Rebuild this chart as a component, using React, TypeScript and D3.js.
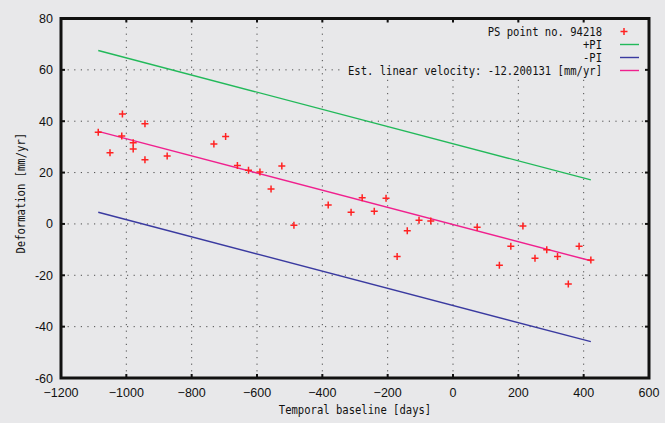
import React from "react";
import * as d3 from "d3";

// Acquisition dates (days relative to reference) and measured deformation of the PS point
const dates = [
  -1086, -1050, -1014, -1012, -979, -979, -943, -943, -875, -732, -696, -660,
  -626, -591, -557, -524, -487, -382, -312, -278, -241, -205, -171, -140, -104,
  -68, 74, 142, 177, 214, 251, 287, 320, 353, 386, 422,
];
const deformation = [
  35.7, 27.7, 34.2, 42.8, 31.6, 29.2, 39.0, 25.0, 26.5, 31.1, 34.0, 22.8,
  20.9, 20.2, 13.6, 22.6, -0.5, 7.4, 4.5, 10.2, 4.9, 10.0, -12.7, -2.7, 1.4,
  1.1, -1.3, -16.1, -8.7, -0.8, -13.4, -10.1, -12.7, -23.4, -8.7, -14.0,
];

// Linear model: velocity [mm/yr], offset at day 0, prediction-interval half width
const velocity = -12.200131;
const offset = -0.25;
const piHalfWidth = 31.5;

const xTicks = [-1200, -1000, -800, -600, -400, -200, 0, 200, 400, 600];
const yTicks = [80, 60, 40, 20, 0, -20, -40, -60];

const legendLabels = [
  "PS point no. 94218",
  "+PI",
  "-PI",
  `Est. linear velocity: ${velocity.toFixed(6)} [mm/yr]`,
];

const W = 665;
const H = 423;
const left = 61;
const right = 649;
const top = 18.5;
const bottom = 378;

const BG = "#e8e8ea";
const RED = "#ff2222";
const GREEN = "#22b95a";
const BLUE = "#3a3aa0";
const PINK = "#f0208e";
const MONO = "'DejaVu Sans Mono', monospace";
const SANS = "'Liberation Sans', Arial, sans-serif";
const CHAR_W = 6.35;

export default function App() {
  const x = d3.scaleLinear().domain([-1200, 600]).range([left, right]);
  const y = d3.scaleLinear().domain([-60, 80]).range([bottom, top]);

  const t0 = d3.min(dates) as number;
  const t1 = d3.max(dates) as number;
  const model = (t: number, shift: number) => offset + shift + (velocity * t) / 365;
  const line = d3
    .line<number[]>()
    .x((d) => x(d[0]))
    .y((d) => y(d[1]));
  const modelPath = (shift: number) =>
    line([
      [t0, model(t0, shift)],
      [t1, model(t1, shift)],
    ]) as string;

  const gridX = xTicks.slice(1, -1);
  const gridY = yTicks.slice(1, -1);

  const legendRowY = [31.5, 44.5, 57.5, 70.5];
  const legendTextRight = 602;
  const sampleX0 = 620;
  const sampleX1 = 639;

  return (
    <svg
      width={W}
      height={H}
      style={{ position: "absolute", left: 0, top: 0, background: BG }}
    >
      <rect x={0} y={0} width={W} height={H} fill={BG} />

      {/* dotted grid */}
      <g stroke="#333" strokeWidth={1} strokeDasharray="1.2 5.4" opacity={0.85}>
        {gridX.map((t) => (
          <line key={"gx" + t} x1={x(t)} x2={x(t)} y1={bottom} y2={top} />
        ))}
        {gridY.map((v) => (
          <line key={"gy" + v} x1={left} x2={right} y1={y(v)} y2={y(v)} />
        ))}
      </g>

      {/* legend background clears the grid */}
      <rect x={344} y={22} width={300} height={56} fill={BG} />

      {/* model lines */}
      <path d={modelPath(piHalfWidth)} fill="none" stroke={GREEN} strokeWidth={1.4} />
      <path d={modelPath(-piHalfWidth)} fill="none" stroke={BLUE} strokeWidth={1.4} />
      <path d={modelPath(0)} fill="none" stroke={PINK} strokeWidth={1.4} />

      {/* measurements */}
      <g stroke={RED} strokeWidth={1.5}>
        {dates.map((t, i) => (
          <path
            key={"p" + i}
            d={`M${x(t) - 3.5},${y(deformation[i])}h7M${x(t)},${y(deformation[i]) - 3.5}v7`}
          />
        ))}
      </g>

      {/* legend */}
      <g fontFamily={MONO} fontSize={12} fill="#111">
        {legendLabels.map((s, i) => (
          <text
            key={"lg" + i}
            x={legendTextRight}
            y={legendRowY[i] + 4}
            textAnchor="end"
            textLength={s.length * CHAR_W}
            lengthAdjust="spacingAndGlyphs"
          >
            {s}
          </text>
        ))}
      </g>
      <path
        d={`M${sampleX0 + 0.5},${legendRowY[0]}h7M${sampleX0 + 4},${legendRowY[0] - 3.5}v7`}
        stroke={RED}
        strokeWidth={1.5}
      />
      <line x1={sampleX0} x2={sampleX1} y1={legendRowY[1]} y2={legendRowY[1]} stroke={GREEN} strokeWidth={1.4} />
      <line x1={sampleX0} x2={sampleX1} y1={legendRowY[2]} y2={legendRowY[2]} stroke={BLUE} strokeWidth={1.4} />
      <line x1={sampleX0} x2={sampleX1} y1={legendRowY[3]} y2={legendRowY[3]} stroke={PINK} strokeWidth={1.4} />

      {/* tick marks on all four sides */}
      <g stroke="#111" strokeWidth={2}>
        {gridX.map((t) => (
          <g key={"tx" + t}>
            <line x1={x(t)} x2={x(t)} y1={bottom} y2={bottom - 4} />
            <line x1={x(t)} x2={x(t)} y1={top} y2={top + 4} />
          </g>
        ))}
        {gridY.map((v) => (
          <g key={"ty" + v}>
            <line x1={left} x2={left + 4} y1={y(v)} y2={y(v)} />
            <line x1={right} x2={right - 4} y1={y(v)} y2={y(v)} />
          </g>
        ))}
      </g>

      {/* frame */}
      <rect
        x={left}
        y={top}
        width={right - left}
        height={bottom - top}
        fill="none"
        stroke="#111"
        strokeWidth={3}
      />

      {/* tick labels */}
      <g fontFamily={SANS} fontSize={12.5} fill="#111">
        {xTicks.map((t) => (
          <text key={"lx" + t} x={x(t)} y={397} textAnchor="middle">
            {t < 0 ? "\u2212" + Math.abs(t) : String(t)}
          </text>
        ))}
        {yTicks.map((v) => (
          <text key={"ly" + v} x={53} y={y(v) + 4.5} textAnchor="end">
            {String(v)}
          </text>
        ))}
      </g>

      {/* axis titles */}
      <text
        x={(left + right) / 2}
        y={414}
        textAnchor="middle"
        fontFamily={MONO}
        fontSize={13}
        fill="#111"
        textLength={24 * CHAR_W}
        lengthAdjust="spacingAndGlyphs"
      >
        Temporal baseline [days]
      </text>
      <text
        transform={`translate(25,${(top + bottom) / 2 - 5}) rotate(-90)`}
        textAnchor="middle"
        fontFamily={MONO}
        fontSize={13}
        fill="#111"
        textLength={19 * CHAR_W}
        lengthAdjust="spacingAndGlyphs"
      >
        Deformation [mm/yr]
      </text>
    </svg>
  );
}
